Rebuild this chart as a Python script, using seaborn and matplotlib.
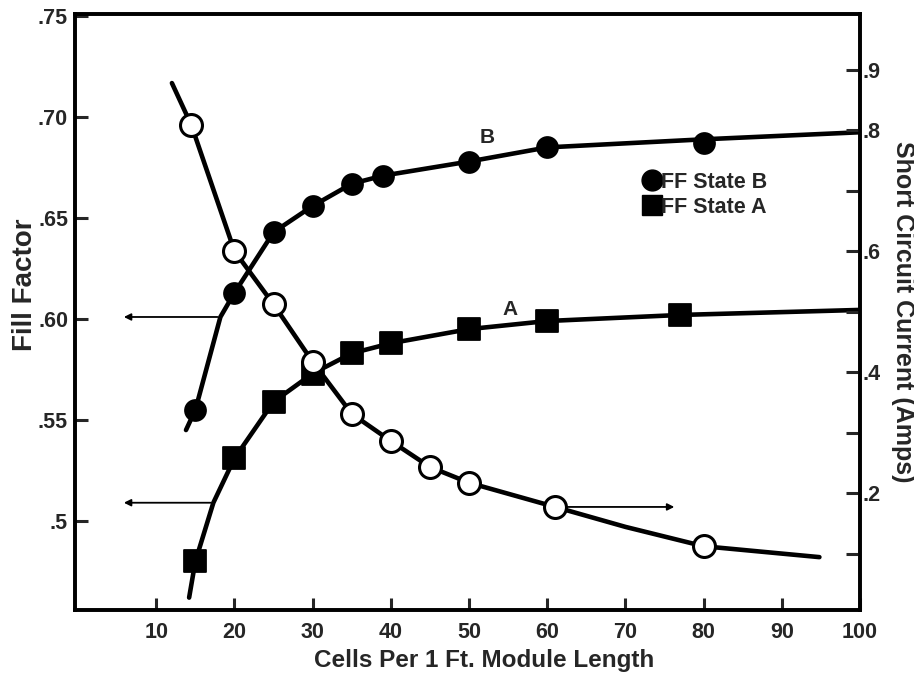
import numpy as np
import pandas as pd
import matplotlib
matplotlib.use("Agg")
import matplotlib.pyplot as plt
import seaborn as sns
from matplotlib.lines import Line2D

# values
cells_b = [15, 20, 25, 30, 35, 39, 50, 60, 80]
ff_b = [0.555, 0.613, 0.643, 0.656, 0.667, 0.671, 0.678, 0.685, 0.687]
# trace of the drawn B curve (incl. ends)
curve_b_x = [13.8, 15, 18.2, 20, 25, 30, 35, 39, 50, 60, 80, 100]
curve_b_y = [0.545, 0.555, 0.601, 0.613, 0.643, 0.656, 0.667, 0.671, 0.678, 0.685, 0.689, 0.6925]

cells_a = [15, 20, 25, 30, 35, 40, 50, 60, 77]
ff_a = [0.480, 0.531, 0.559, 0.573, 0.583, 0.588, 0.595, 0.599, 0.602]
curve_a_x = [14.2, 15, 17.3, 20, 25, 30, 35, 40, 50, 60, 77, 100]
curve_a_y = [0.462, 0.480, 0.509, 0.531, 0.559, 0.573, 0.583, 0.588, 0.595, 0.599, 0.602, 0.6045]

cells_i = [14.5, 20, 25, 30, 35, 40, 45, 50, 61, 80]
isc = [0.808, 0.600, 0.512, 0.417, 0.331, 0.286, 0.243, 0.217, 0.177, 0.112]
curve_i_x = [12.0, 14.5, 20, 25, 30, 35, 40, 45, 50, 61, 70, 80, 94.8]
curve_i_y = [0.878, 0.808, 0.600, 0.512, 0.417, 0.331, 0.286, 0.243, 0.217, 0.177, 0.144, 0.112, 0.094]

x_ticks = [10, 20, 30, 40, 50, 60, 70, 80, 90, 100]
ff_ticks = [0.50, 0.55, 0.60, 0.65, 0.70, 0.75]
ff_labels = ['.5', '.55', '.60', '.65', '.70', '.75']
i_ticks = [0.1, 0.2, 0.3, 0.4, 0.5, 0.6, 0.7, 0.8, 0.9]
i_labels = ['', '.2', '', '.4', '', '.6', '', '.8', '.9']

sns.set_style("ticks")
plt.rcParams['font.family'] = ['Liberation Sans', 'DejaVu Sans']
plt.rcParams['font.weight'] = 'bold'

fig, ax = plt.subplots(figsize=(9.14, 6.73), dpi=100)
fig.subplots_adjust(left=0.082, right=0.941, bottom=0.094, top=0.979)
ax2 = ax.twinx()

lw = 3.3
sns.lineplot(x=curve_b_x, y=curve_b_y, ax=ax, color='black', lw=lw, sort=False, zorder=2)
sns.lineplot(x=curve_a_x, y=curve_a_y, ax=ax, color='black', lw=lw, sort=False, zorder=2)
sns.scatterplot(x=cells_b, y=ff_b, ax=ax, marker='o', s=230, color='black', edgecolor='black', zorder=3)
sns.scatterplot(x=cells_a, y=ff_a, ax=ax, marker='s', s=255, color='black', edgecolor='black', zorder=3)

sns.lineplot(x=curve_i_x, y=curve_i_y, ax=ax2, color='black', lw=lw, sort=False, zorder=2)
sns.scatterplot(x=cells_i, y=isc, ax=ax2, marker='o', s=250, color='white', edgecolor='black',
                linewidth=2.2, zorder=3)

ax.set_xlim(-0.4, 100)
ax.set_ylim(0.456, 0.751)
ax2.set_ylim(0.007, 0.992)

ax.set_xticks(x_ticks)
ax.set_xticklabels([str(v) for v in x_ticks])
ax.set_yticks(ff_ticks)
ax.set_yticklabels(ff_labels)
ax2.set_yticks(i_ticks)
ax2.set_yticklabels(i_labels)

tick_font = 15.5
ax.tick_params(axis='both', direction='in', length=9, width=2.2, labelsize=tick_font)
ax.tick_params(axis='x', pad=9)
ax.tick_params(axis='y', pad=5)
ax2.tick_params(axis='y', direction='in', length=10, width=2.2, labelsize=tick_font, pad=2)

for a in (ax, ax2):
    for sp in a.spines.values():
        sp.set_visible(True)
        sp.set_linewidth(2.6)
        sp.set_color('black')

ax.set_xlabel('Cells Per 1 Ft. Module Length', fontsize=17.5, fontweight='bold')
ax.xaxis.set_label_coords(0.521, -0.066)
ax.set_ylabel('Fill Factor', fontsize=20, fontweight='bold')
ax.yaxis.set_label_coords(-0.047, 0.545)
ax2.set_ylabel('Short Circuit Current (Amps)', fontsize=18, fontweight='bold', rotation=270,
               va='bottom')
ax2.yaxis.set_label_coords(1.04, 0.5)

ax.text(52.3, 0.690, 'B', fontsize=15, fontweight='bold', ha='center', va='center')
ax.text(55.2, 0.6045, 'A', fontsize=15, fontweight='bold', ha='center', va='center')

arrow = dict(arrowstyle='-|>', color='black', lw=1.3, mutation_scale=10)
ax.annotate('', xy=(5.5, 0.601), xytext=(18.2, 0.601), arrowprops=arrow)
ax.annotate('', xy=(5.5, 0.509), xytext=(17.3, 0.509), arrowprops=arrow)
ax2.annotate('', xy=(76.6, 0.177), xytext=(62.2, 0.177), arrowprops=arrow)

handles = [Line2D([], [], marker='o', color='black', ls='none', markersize=15),
           Line2D([], [], marker='s', color='black', ls='none', markersize=15)]
ax.legend(handles, ['FF State B', 'FF State A'], loc='upper left', bbox_to_anchor=(0.697, 0.768),
          frameon=False, handletextpad=-0.1, handlelength=1.0, labelspacing=0.2,
          prop={'size': 15.5, 'weight': 'bold'})

plt.savefig('out.png', dpi=100)
